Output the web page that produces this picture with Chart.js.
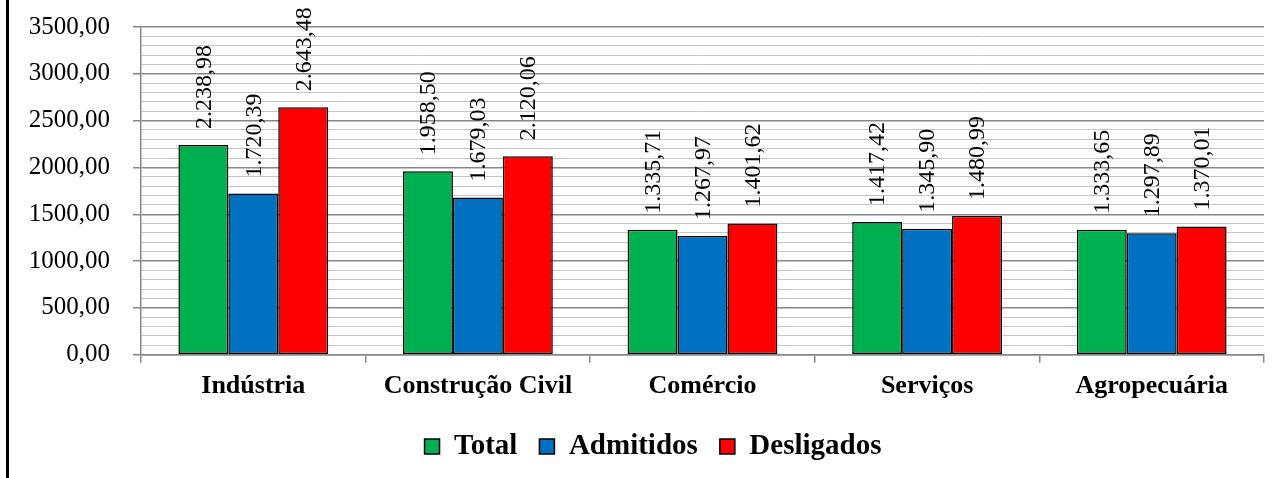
<!DOCTYPE html>
<html>
<head>
<meta charset="utf-8">
<script src="https://cdn.jsdelivr.net/npm/chart.js@4"></script>
<style>
  html, body { margin: 0; padding: 0; background: #fff; }
  #wrap { position: relative; width: 1279px; height: 478px; }
  #frame { position: absolute; left: 6px; top: 0; width: 3px; height: 478px; background: #000; }
  canvas { position: absolute; left: 0; top: 0; }
</style>
</head>
<body>
<div id="wrap">
  <div id="frame"></div>
  <canvas id="mainChart" width="1279" height="478"></canvas>
</div>
<script>
// data
const categories = ['Indústria', 'Construção Civil', 'Comércio', 'Serviços', 'Agropecuária'];
const totalValues = [2238.98, 1958.50, 1335.71, 1417.42, 1333.65];
const admitidosValues = [1720.39, 1679.03, 1267.97, 1345.90, 1297.89];
const desligadosValues = [2643.48, 2120.06, 1401.62, 1480.99, 1370.01];
const seriesNames = ['Total', 'Admitidos', 'Desligados'];
const yMin = 0;
const yMax = 3500;
const yMinorStep = 100;
const yMajorStep = 500;

const serif = '"Liberation Serif", "Times New Roman", serif';
const majorGrid = '#878787';
const minorGrid = '#c4c4c4';

// 2238.98 -> "2.238,98"
function fmtBR(v) {
    const parts = v.toFixed(2).split('.');
    return parts[0].replace(/\B(?=(\d{3})+(?!\d))/g, '.') + ',' + parts[1];
}

// rotated value labels above each bar
const barLabels = {
    id: 'barLabels',
    afterDatasetsDraw(chart) {
        const c = chart.ctx;
        c.save();
        c.font = '24px ' + serif;
        c.fillStyle = '#000';
        c.textAlign = 'left';
        c.textBaseline = 'middle';
        chart.data.datasets.forEach((ds, i) => {
            chart.getDatasetMeta(i).data.forEach((bar, j) => {
                c.save();
                c.translate(bar.x + 1, bar.y - 16);
                c.rotate(-Math.PI / 2);
                c.fillText(fmtBR(ds.data[j]), 0, 0);
                c.restore();
            });
        });
        c.restore();
    }
};

// nudge the legend so it sits centred like the original
const legendShift = {
    id: 'legendShift',
    afterLayout(chart) {
        if (chart.legend) chart.legend.left += 22;
    }
};

const ctx = document.getElementById('mainChart').getContext('2d');

new Chart(ctx, {
    type: 'bar',
    data: {
        labels: categories,
        datasets: [
            { label: seriesNames[0], data: totalValues, backgroundColor: '#00b050' },
            { label: seriesNames[1], data: admitidosValues, backgroundColor: '#0070c0' },
            { label: seriesNames[2], data: desligadosValues, backgroundColor: '#ff0000' }
        ].map(d => Object.assign(d, {
            borderColor: '#000',
            borderWidth: 1.5,
            borderSkipped: false,
            categoryPercentage: 0.667,
            barPercentage: 1
        }))
    },
    options: {
        responsive: false,
        animation: false,
        layout: { padding: { left: 20, right: 15, top: 27, bottom: 7 } },
        plugins: {
            tooltip: { enabled: false },
            legend: {
                position: 'bottom',
                labels: {
                    color: '#000',
                    font: { family: serif, size: 29, weight: 'bold' },
                    boxWidth: 15,
                    boxHeight: 15,
                    padding: 22
                }
            }
        },
        scales: {
            x: {
                grid: { offset: true, drawOnChartArea: false, tickLength: 8, color: majorGrid, lineWidth: 1.5 },
                border: { color: majorGrid, width: 1.5 },
                ticks: {
                    color: '#000',
                    padding: 10,
                    font: { family: serif, size: 26, weight: 'bold', lineHeight: 1.05 }
                }
            },
            y: {
                min: yMin,
                max: yMax,
                afterFit(scale) {
                    scale.width = 121;
                    // tick padding would otherwise push the plot down
                    scale.paddingTop = 0;
                    scale.paddingBottom = 0;
                },
                border: { color: majorGrid, width: 1.5 },
                grid: {
                    tickLength: 8,
                    color: c => c.tick.value % yMajorStep === 0 ? majorGrid : minorGrid,
                    lineWidth: c => c.tick.value % yMajorStep === 0 ? 1.5 : 1,
                    tickColor: c => c.tick.value % yMajorStep === 0 ? majorGrid : 'rgba(0,0,0,0)'
                },
                ticks: {
                    stepSize: yMinorStep,
                    autoSkip: false,
                    padding: 23,
                    color: '#000',
                    font: { family: serif, size: 25 },
                    callback: v => v % yMajorStep === 0 ? v.toFixed(2).replace('.', ',') : ''
                }
            }
        }
    },
    plugins: [barLabels, legendShift]
});
</script>
</body>
</html>
